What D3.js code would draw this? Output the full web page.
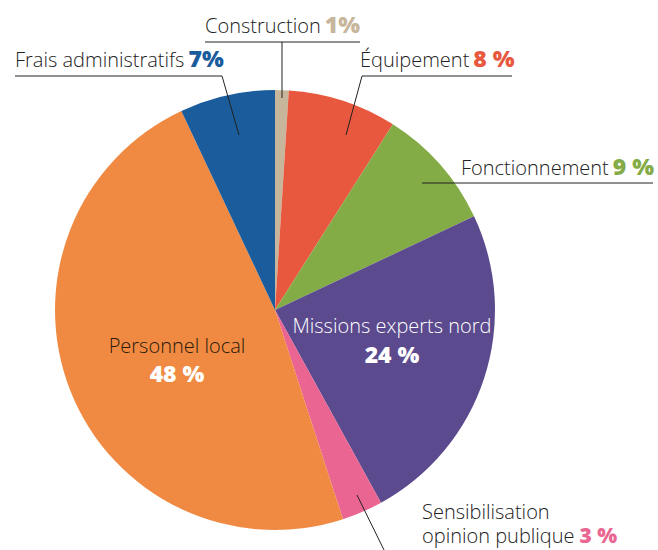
<!DOCTYPE html>
<html><head><meta charset="utf-8">
<script src="https://cdn.jsdelivr.net/npm/d3@7"></script>
<style>body{margin:0;background:#fff}svg{display:block}
.lbl{font-family:"Open Sans",sans-serif;font-weight:300;fill:#222}
.pct{font-family:"Open Sans",sans-serif;font-weight:800}
</style></head><body>
<svg id="c" width="658" height="550"></svg>
<script>
const categories = ["Construction","Équipement","Fonctionnement","Missions experts nord","Sensibilisation opinion publique","Personnel local","Frais administratifs"];
const values = [1,8,9,24,3,48,7];
const colors = ["#C7B69C","#E8583F","#83AB46","#5B4A8E","#EA6591","#F08A43","#1B5C9C"];

const svg = d3.select("#c");
const cx = 275, cy = 310, r = 220;
const pie = d3.pie().sort(null).value(d=>d)(values);
const arc = d3.arc().innerRadius(0).outerRadius(r);
const g = svg.append("g").attr("transform",`translate(${cx},${cy})`);
g.selectAll("path").data(pie).join("path").attr("d",arc).attr("fill",(d,i)=>colors[i]);

// leader lines
const lines = [
  [[205,42],[360,42]],[[282,42],[282,98]],
  [[15,76],[222,76],[239,135]],
  [[512,76],[362,76],[346,135]],
  [[653,183],[422,183]],
  [[357,495],[384,550]]
];
svg.selectAll("path.ld").data(lines).join("path").attr("class","ld")
  .attr("d",d=>d3.line()(d)).attr("fill","none").attr("stroke","#222").attr("stroke-width",1);

function ext(x,y,name,pct,col){
  const t = svg.append("text").attr("x",x).attr("y",y).attr("font-size",20);
  t.append("tspan").attr("class","lbl").text(name);
  t.append("tspan").attr("class","pct").attr("dx",4).attr("fill",col).attr("font-size",23).text(pct);
}
ext(205,33,categories[0],values[0]+"%",colors[0]);
ext(360,67,categories[1],values[1]+" %",colors[1]);
ext(461,175,categories[2],values[2]+" %",colors[2]);
ext(15,67,categories[6],values[6]+"%",colors[6]);
svg.append("text").attr("class","lbl").attr("x",422).attr("y",519).attr("font-size",20).text("Sensibilisation");
const t2 = svg.append("text").attr("x",422).attr("y",543).attr("font-size",20);
t2.append("tspan").attr("class","lbl").text("opinion publique");
t2.append("tspan").attr("class","pct").attr("dx",5).attr("fill",colors[4]).attr("font-size",21).text(values[4]+" %");

// inside labels
svg.append("text").attr("class","lbl").attr("x",177).attr("y",353).attr("text-anchor","middle").attr("font-size",20).style("fill","#2a1a0a").text(categories[5]);
svg.append("text").attr("class","pct").attr("x",177).attr("y",382).attr("text-anchor","middle").attr("font-size",23).attr("fill","#fff").text(values[5]+" %");
svg.append("text").attr("class","lbl").attr("x",392).attr("y",333).attr("text-anchor","middle").attr("font-size",20).style("fill","#fff").text(categories[3]);
svg.append("text").attr("class","pct").attr("x",392).attr("y",363).attr("text-anchor","middle").attr("font-size",23).attr("fill","#fff").text(values[3]+" %");
</script></body></html>
